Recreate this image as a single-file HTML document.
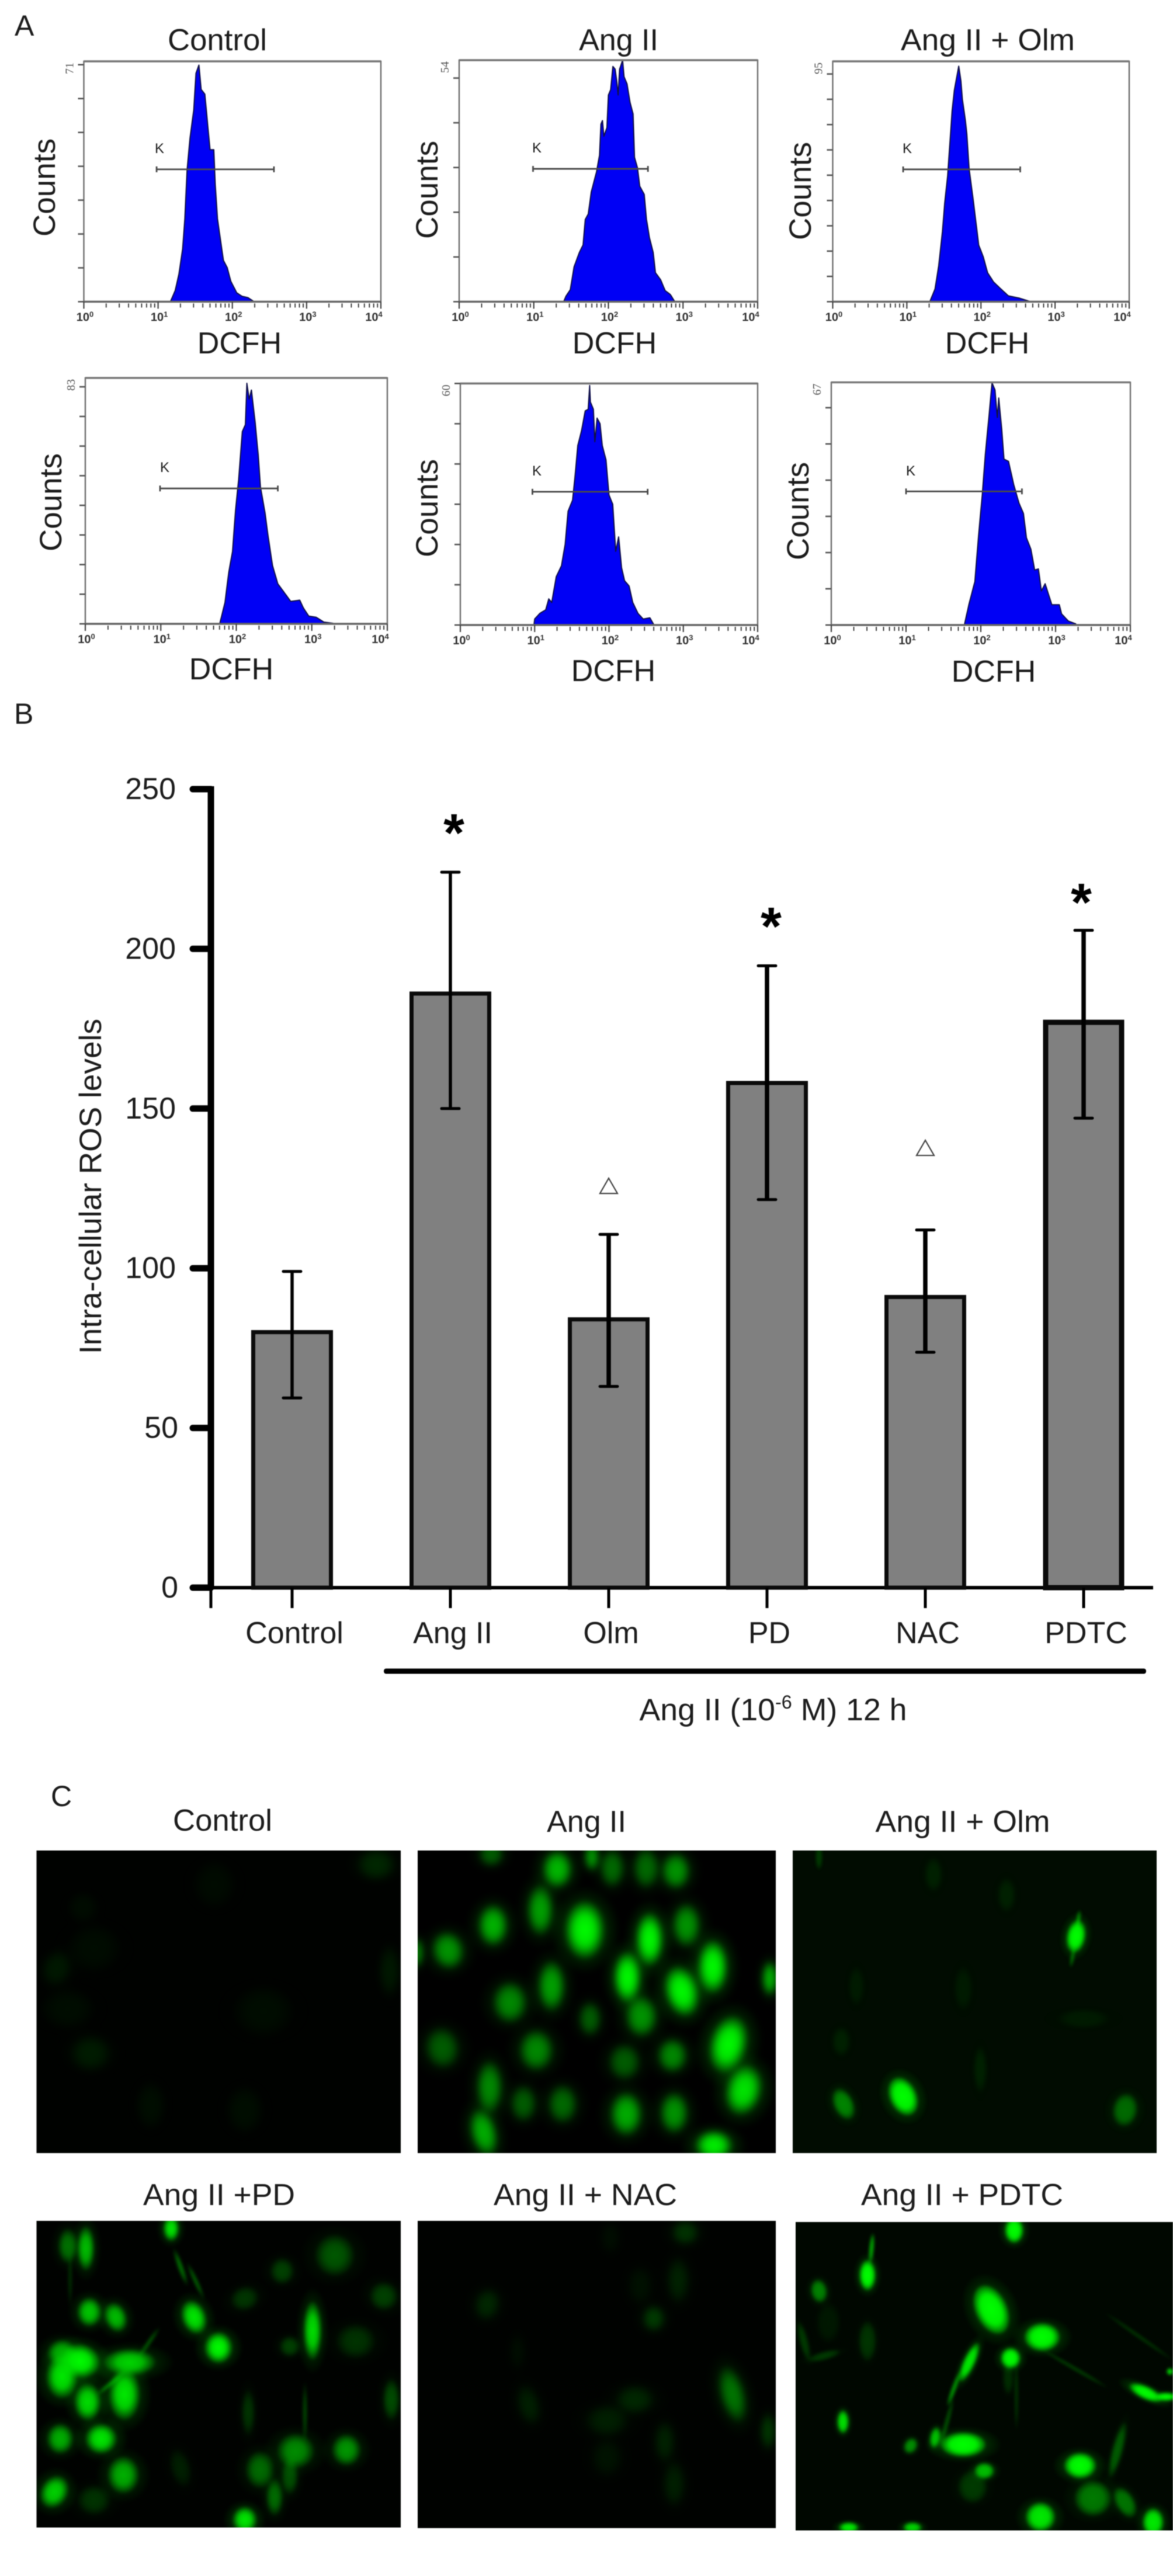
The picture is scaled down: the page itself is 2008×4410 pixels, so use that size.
<!DOCTYPE html>
<html lang="en">
<head>
<meta charset="utf-8">
<title>ROS levels figure</title>
<style>
html,body{margin:0;padding:0;background:#fff;}
svg{display:block;filter:blur(0.9px);}
text{font-family:"Liberation Sans",sans-serif;fill:#1c1c1c;}
</style>
</head>
<body>
<svg id="fig" xmlns="http://www.w3.org/2000/svg" width="2008" height="4410" viewBox="0 0 2008 4410">
<defs>
<filter id="soft" x="-5%" y="-5%" width="110%" height="110%"><feGaussianBlur stdDeviation="5"/></filter>
<filter id="sharp" x="-5%" y="-5%" width="110%" height="110%"><feGaussianBlur stdDeviation="2.6"/></filter>
<radialGradient id="gradsoft"><stop offset="0" stop-color="#00ff00" stop-opacity="1"/><stop offset="0.5" stop-color="#00ff00" stop-opacity="0.85"/><stop offset="1" stop-color="#00ff00" stop-opacity="0.08"/></radialGradient>
<radialGradient id="gradsharp"><stop offset="0" stop-color="#00ff00" stop-opacity="1"/><stop offset="0.6" stop-color="#00ff00" stop-opacity="0.92"/><stop offset="1" stop-color="#00ff00" stop-opacity="0.22"/></radialGradient>
</defs>
<rect width="2008" height="4410" fill="#fff"/>

<g id="panelA">
<text x="25" y="61" font-size="50">A</text>
<text x="372" y="86" font-size="52" text-anchor="middle" textLength="170" lengthAdjust="spacingAndGlyphs">Control</text>
<text x="1059" y="86" font-size="52" text-anchor="middle">Ang II</text>
<text x="1691" y="86" font-size="52" text-anchor="middle" textLength="298" lengthAdjust="spacingAndGlyphs">Ang II + Olm</text>
<text transform="translate(94 321) rotate(-90)" font-size="53" text-anchor="middle">Counts</text>
<text transform="translate(749 325) rotate(-90)" font-size="53" text-anchor="middle">Counts</text>
<text transform="translate(1388 327) rotate(-90)" font-size="53" text-anchor="middle">Counts</text>
<text transform="translate(105 860) rotate(-90)" font-size="53" text-anchor="middle">Counts</text>
<text transform="translate(749 870) rotate(-90)" font-size="53" text-anchor="middle">Counts</text>
<text transform="translate(1384 875) rotate(-90)" font-size="53" text-anchor="middle">Counts</text>
<text x="410" y="605" font-size="52" text-anchor="middle">DCFH</text>
<text x="1052" y="605" font-size="52" text-anchor="middle">DCFH</text>
<text x="1690" y="605" font-size="52" text-anchor="middle">DCFH</text>
<text x="396" y="1163" font-size="52" text-anchor="middle">DCFH</text>
<text x="1050" y="1166" font-size="52" text-anchor="middle">DCFH</text>
<text x="1701" y="1167" font-size="52" text-anchor="middle">DCFH</text>
<text x="265" y="262" font-size="24">K</text>
<text x="911" y="261" font-size="24">K</text>
<text x="1545" y="262" font-size="24">K</text>
<text x="274" y="808" font-size="24">K</text>
<text x="911" y="814" font-size="24">K</text>
<text x="1551" y="814" font-size="24">K</text>
</g>

<g id="panelB">
<text x="24" y="1239" font-size="50">B</text>
<text transform="translate(173 2318) rotate(-90)" font-size="53" textLength="574" lengthAdjust="spacingAndGlyphs">Intra-cellular ROS levels</text>
<rect x="657" y="2856.5" width="1305" height="9" rx="4" fill="#000"/>
<text x="1094.5" y="2945" font-size="53" textLength="458" lengthAdjust="spacingAndGlyphs">Ang II (10<tspan font-size="32" dy="-20">-6</tspan><tspan dy="20"> M) 12 h</tspan></text>
</g>

<g id="panelC">
<text x="87" y="3092" font-size="50">C</text>
<text x="381" y="3134" font-size="52" text-anchor="middle" textLength="170" lengthAdjust="spacingAndGlyphs">Control</text>
<text x="1004" y="3136" font-size="52" text-anchor="middle">Ang II</text>
<text x="1648" y="3136" font-size="52" text-anchor="middle" textLength="299" lengthAdjust="spacingAndGlyphs">Ang II + Olm</text>
<text x="375" y="3775" font-size="52" text-anchor="middle" textLength="260" lengthAdjust="spacingAndGlyphs">Ang II +PD</text>
<text x="1002" y="3775" font-size="52" text-anchor="middle" textLength="314" lengthAdjust="spacingAndGlyphs">Ang II + NAC</text>
<text x="1647" y="3775" font-size="52" text-anchor="middle" textLength="346" lengthAdjust="spacingAndGlyphs">Ang II + PDTC</text>
</g>
</svg>

<script>
/* ---------- Panel A data: histogram outlines, log10 channel and cell counts ---------- */
const hist1Log = [1.17,1.23,1.28,1.33,1.36,1.39,1.43,1.48,1.51,1.55,1.58,1.63,1.67,1.70,1.75,1.77,1.80,1.84,1.88,1.93,1.98,2.06,2.13,2.21,2.28];
const hist1Counts = [0.2,3.3,8.1,15.6,24.5,38.8,48.4,56.6,67.5,69.9,62.7,61.3,51.8,44.9,44.9,34.7,24.5,18.3,12.2,10.1,6,2.6,1.6,1.2,0.2];
const hist2Log = [1.40,1.43,1.49,1.54,1.61,1.66,1.69,1.73,1.77,1.84,1.88,1.90,1.92,1.94,1.98,2.00,2.03,2.06,2.09,2.11,2.13,2.15,2.19,2.21,2.25,2.29,2.33,2.35,2.39,2.42,2.48,2.51,2.55,2.60,2.63,2.70,2.76,2.83,2.89];
const hist2Counts = [0,1.2,2.7,7.8,11,12.7,18.4,19.6,24.5,29,32.7,39.7,40.5,37,38.9,46.2,47.4,52.6,52,49.5,46.2,52,54,50.3,48.7,44.6,42,32.3,29.9,25.8,24,18.4,14.3,11,6.5,4.9,2.5,1.6,0];
const hist3Log = [1.31,1.38,1.43,1.48,1.51,1.55,1.58,1.61,1.64,1.70,1.73,1.75,1.79,1.81,1.84,1.89,1.94,1.97,2.03,2.09,2.17,2.27,2.37,2.52,2.67];
const hist3Counts = [0,5,14.2,27.8,38.8,49.8,62.5,75.3,83.5,93.1,87.2,79.9,71.7,66.2,52.5,41.5,29.7,22.4,17.8,11.4,7.8,5,2.3,1.4,0];
const hist4Log = [1.78,1.85,1.90,1.95,1.99,2.03,2.08,2.12,2.14,2.17,2.20,2.25,2.29,2.32,2.38,2.42,2.48,2.55,2.62,2.72,2.84,2.89,2.96,3.06,3.16,3.28];
const hist4Counts = [0,7.2,17.4,24.4,38.4,48.5,64.9,67.2,81.2,75.8,78.9,68,57.1,46.2,37.6,29.8,19.7,13.5,11.1,7.6,8,5.3,2.6,2.2,0.6,0.2];
const hist5Log = [0.99,1.0,1.07,1.15,1.19,1.23,1.29,1.36,1.41,1.45,1.51,1.54,1.58,1.63,1.68,1.72,1.74,1.75,1.79,1.81,1.84,1.88,1.91,1.96,2.0,2.05,2.09,2.13,2.17,2.21,2.27,2.32,2.39,2.46,2.55,2.60];
const hist5Counts = [0,1.5,2.9,3.8,6.5,5.6,12,14.7,20,28.3,31,36.4,44.6,48.2,53.2,53.6,59.5,55.4,53.6,45.5,51.4,50,44.6,41,32.3,30,18.3,21.9,14.2,11,9.7,5.6,2.9,1.5,1.8,0.2];
const hist6Log = [1.78,1.84,1.92,1.97,2.02,2.06,2.11,2.15,2.19,2.22,2.24,2.28,2.31,2.37,2.44,2.51,2.57,2.61,2.67,2.72,2.77,2.81,2.86,2.95,3.05,3.08,3.17,3.27];
const hist6Counts = [0,5.6,12,24.8,36.2,47.1,57.9,66.9,64.9,57.3,62.7,54.1,45.8,45.2,38.8,33.7,30.8,24.1,20.9,15.2,15.5,9.4,11.4,5.6,5.6,3.1,1.1,0.3];
const histMaxCounts = [71,54,95,83,60,67];
const decadeExponents = [0,1,2,3,4];
const markerStartLog = [0.98,0.99,0.95,0.99,0.97,1.0];
const markerEndLog = [2.56,2.53,2.53,2.55,2.52,2.55];
const markerCounts = [39.1,29.7,52.3,45.7,33.1,36.9];

/* ---------- Panel B data ---------- */
const barCategories = ['Control','Ang II','Olm','PD','NAC','PDTC'];
const barMeans = [80,186,84,158,91,177];
const barErrorHigh = [99,224,110.6,194.7,112,205.8];
const barErrorLow = [59.4,150,63,121.5,73.7,147];
const barMarkers = ['','*','triangle','*','triangle','*'];
const barMarkerLevels = [0,240,125.8,210.8,137.7,218.3];
const barTickValues = [0,50,100,150,200,250];

/* ---------- Panel C: fluorescent cells [cx, cy, rx, ry, brightness, rotation] ---------- */
const cellsControl = [[644,3192,34,28,.13,0],[97,3370,26,32,.08,20],[667,3374,19,45,.08,0],[155,3515,36,32,.09,0],[116,3439,46,36,.04,0],[451,3443,52,45,.04,0],[161,3335,46,42,.035,0],[142,3265,26,26,.035,0],[258,3604,26,42,.045,0],[419,3612,32,42,.045,0],[367,3226,36,42,.03,0]];
const cellsAngII = [[954,3200,26,33,.7,0],[844,3296,26,36,.68,0],[925,3270,23,44,.6,0],[767,3339,28,33,.55,-15],[1001,3304,34,50,1,0],[944,3400,24,44,.6,0],[873,3428,30,36,.5,0],[757,3506,30,36,.33,-10],[918,3510,30,36,.5,0],[838,3573,23,46,.5,0],[896,3601,23,32,.33,0],[963,3602,26,34,.38,0],[828,3651,23,42,.65,-15],[841,3174,22,22,.33,0],[715,3343,10,26,.45,0],[1010,3456,20,30,.33,0],[1048,3198,22,34,.38,0],[1106,3198,23,36,.38,0],[1157,3203,25,32,.55,0],[1013,3179,13,24,.55,0],[1175,3296,25,38,.55,0],[1112,3320,24,46,1,0],[1074,3385,24,44,1,0],[1220,3367,26,46,1,0],[1167,3409,29,44,1,-15],[1098,3452,28,36,.55,0],[1318,3387,14,30,.65,0],[1247,3500,32,50,1,15],[1151,3519,26,30,.5,0],[1069,3530,28,32,.33,0],[1273,3578,31,44,.9,15],[1072,3619,28,38,.65,0],[1154,3617,25,36,.55,0],[1222,3673,32,26,.95,0]];
const cellsOlm = [[1842,3315,16,28,1,10],[1846,3286,3,16,.6,8],[1836,3350,3,18,.45,10],[1546,3589,23,34,1,-25],[1444,3602,17,28,.45,-25],[1926,3612,21,28,.35,10],[1598,3209,15,28,.07,0],[1723,3244,15,28,.07,0],[1402,3179,6,22,.2,0],[1649,3404,15,36,.05,0],[1466,3400,13,32,.05,0],[1855,3456,42,16,.05,0],[1440,3495,15,24,.07,0],[1678,3543,11,38,.07,0]];
const cellsPD = [[147,3849,15,38,.7,0],[116,3845,17,30,.4,0],[293,3815,14,22,.9,0],[153,3958,21,25,.75,0],[198,3967,19,26,.7,-20],[332,3967,21,30,.9,-20],[374,4019,24,27,1,0],[535,3990,16,50,.85,0],[138,4042,33,29,1,15],[106,4069,27,37,.9,0],[106,4028,25,23,.6,0],[222,4044,44,23,.8,0],[213,4099,27,44,.9,0],[150,4112,23,32,.85,0],[103,4175,23,26,.65,0],[173,4175,27,26,.9,0],[211,4237,27,32,.65,0],[93,4266,23,29,.8,30],[419,4314,21,23,.9,0],[506,4196,32,30,.5,0],[593,4194,25,27,.55,0],[445,4228,25,32,.38,0],[470,4275,15,32,.38,0],[496,4239,15,32,.28,0],[573,3861,34,36,.3,0],[483,3888,21,23,.22,0],[419,3935,25,21,.18,-20],[657,3931,25,25,.22,25],[609,4008,34,30,.17,0],[496,4017,18,18,.22,0],[670,4108,15,36,.26,0],[161,4280,29,26,.17,0],[425,4130,12,40,.17,0],[309,4225,18,34,.1,-15],[309,3881,5,34,.45,-20],[522,4130,4,52,.3,0],[335,3905,4,35,.4,-25],[120,3900,3.5,50,.2,0],[255,4010,4,32,.35,35],[190,4080,4,32,.5,50]];
const cellsNAC = [[834,3945,22,28,.13,15],[905,4117,20,36,.1,-15],[886,4026,14,32,.04,0],[1173,3822,24,22,.17,0],[1161,3904,20,40,.11,0],[1119,3969,20,23,.2,0],[1254,4099,22,50,.42,-15],[1087,4108,34,25,.13,0],[1039,4144,38,28,.1,0],[1138,4180,18,36,.11,0],[1315,4162,14,32,.18,0],[1039,4207,28,34,.06,0],[1154,4252,20,40,.1,0],[1096,3913,22,34,.05,0],[1045,3831,17,28,.04,0]];
const cellsPDTC = [[1485,3895,14,26,1,0],[1492,3849,4,26,.7,5],[1736,3818,16,22,1,0],[1402,3922,14,20,.45,-10],[1697,3954,27,44,1,-25],[1784,4001,30,24,1,0],[1730,4037,17,18,1,0],[1659,4044,10,36,.9,25],[1633,4089,4,32,.6,20],[1443,4146,10,20,.85,0],[1649,4185,38,21,1,0],[1601,4173,9,18,.7,10],[1559,4187,11,14,.5,30],[1685,4230,17,14,.7,0],[1665,4257,25,28,.18,0],[1849,4221,27,22,1,0],[1871,4277,31,30,.42,0],[1781,4309,25,25,.9,0],[1974,4318,18,24,.9,0],[1453,4327,17,9,.9,0],[1562,4327,16,9,.8,0],[1961,4096,30,11,1,25],[1996,4103,18,7,1,0],[2003,4060,6,6,.9,0],[1913,4194,9,48,.3,15],[1926,4284,16,28,.4,-30],[1485,4008,15,34,.16,0],[1411,4033,28,7,.18,-15],[1376,4008,7,34,.18,-15],[1418,3976,20,34,.06,0],[1726,4071,9,28,.13,0],[1840,4055,3,65,.25,-60],[1950,4000,3,70,.2,-55],[1620,4150,4,45,.3,15],[1740,4100,3,60,.2,0]];

/* ---------- Layout (not data) ---------- */
const plotLayouts = [
 {L:143.5,R:652,T:105,B:516.5},
 {L:786,R:1297,T:103,B:516.5},
 {L:1425.5,R:1933,T:105,B:516.5},
 {L:146,R:663,T:647,B:1068},
 {L:788,R:1297,T:656.5,B:1070},
 {L:1423,R:1935,T:654.6,B:1070}
];
const imageLayouts = [
 {x:62.5,y:3168,w:623.5,h:518,bg:'#000200',f:'soft',gr:'gradsoft'},
 {x:715,y:3168,w:613,h:518,bg:'#000000',f:'soft',gr:'gradsoft'},
 {x:1357,y:3168,w:623,h:518,bg:'#010c01',f:'sharp',gr:'gradsharp'},
 {x:62.5,y:3802,w:623.5,h:525,bg:'#000200',f:'sharp',gr:'gradsoft'},
 {x:715,y:3802,w:613,h:526,bg:'#000200',f:'soft',gr:'gradsoft'},
 {x:1362,y:3804,w:646,h:528,bg:'#000700',f:'sharp',gr:'gradsharp'}
];
const starNudge = [0,6,0,7,0,-4];
const SVGNS = 'http://www.w3.org/2000/svg';
const svg = document.getElementById('fig');
const panelA = document.getElementById('panelA');
const panelB = document.getElementById('panelB');
const panelC = document.getElementById('panelC');

function mk(tag, attrs, parent){
  const e = document.createElementNS(SVGNS, tag);
  for (const k in attrs) e.setAttribute(k, attrs[k]);
  parent.appendChild(e);
  return e;
}

/* ---------- Panel A drawing ---------- */
function drawHistogram(idx, logs, counts){
  const box = plotLayouts[idx];
  const ymax = histMaxCounts[idx];
  const xAt = v => box.L + (v / 4) * (box.R - box.L);
  const yAt = c => box.B - (c / ymax) * (box.B - box.T);

  const g = mk('g', {}, panelA);
  
  

  let d = 'M' + xAt(logs[0]).toFixed(1) + ' ' + box.B;
  for (let i = 0; i < logs.length; i++) {
    d += 'L' + xAt(logs[i]).toFixed(1) + ' ' + yAt(counts[i]).toFixed(1);
  }
  d += 'L' + xAt(logs[logs.length - 1]).toFixed(1) + ' ' + box.B + 'Z';
  const fillShape = mk('path', {d: d, fill: '#0000f5', stroke: '#10104a', 'stroke-width': 2, 'stroke-linejoin': 'round'}, g);
  
  

  const frame = mk('path', {d: 'M' + box.L + ' ' + box.B + 'V' + box.T + 'H' + box.R + 'V' + box.B, fill: 'none', stroke: '#6e6e6e', 'stroke-width': 2.4}, g);
  
  
  const topEdge = mk('line', {x1: box.L, x2: box.R, y1: box.T, y2: box.T, stroke: '#777', 'stroke-width': 3.4}, g);
  
  
  const baseEdge = mk('line', {x1: box.L, x2: box.R, y1: box.B, y2: box.B, stroke: '#666', 'stroke-width': 3.4}, g);
  
  

  for (let c = 0; c <= ymax; c += 10) {
    const tick = mk('line', {x1: box.L - 10, x2: box.L, y1: yAt(c), y2: yAt(c), stroke: '#555', 'stroke-width': 2.6}, g);
    
    
  }
  const maxText = mk('text', {transform: 'translate(' + (box.L - 18) + ' ' + (box.T + 12) + ') rotate(-90)', 'text-anchor': 'middle', 'font-size': 20, style: 'font-family:"Liberation Serif",serif;fill:#555'}, g);
  maxText.textContent = String(ymax);
  
  

  decadeExponents.forEach(function(exp){
    const major = mk('line', {x1: xAt(exp), x2: xAt(exp), y1: box.B, y2: box.B + 12, stroke: '#444', 'stroke-width': 2.2}, g);
    
    
    if (exp < 4) {
      for (let m = 2; m < 10; m++) {
        const pos = xAt(exp + Math.log10(m));
        const minor = mk('line', {x1: pos, x2: pos, y1: box.B + 3, y2: box.B + 10, stroke: '#444', 'stroke-width': 2}, g);
        
        
      }
    }
    const cx = exp === 4 ? box.R - 12 : xAt(exp) + 2;
    const label = mk('text', {x: cx, y: box.B + 33, 'text-anchor': 'middle', 'font-size': 20, 'font-weight': 'bold', style: 'fill:#333'}, g);
    
    
    label.appendChild(document.createTextNode('10'));
    const sup = mk('tspan', {'font-size': 13, dy: -7}, label);
    sup.textContent = String(exp);
  });

  const my = yAt(markerCounts[idx]);
  const m0 = xAt(markerStartLog[idx]);
  const m1 = xAt(markerEndLog[idx]);
  const marker = mk('path', {d: 'M' + m0 + ' ' + (my - 5) + 'v10M' + m0 + ' ' + my + 'H' + m1 + 'M' + m1 + ' ' + (my - 5) + 'v10', fill: 'none', stroke: '#4a4a4a', 'stroke-width': 2.8}, g);
  
  
}
drawHistogram(0, hist1Log, hist1Counts);
drawHistogram(1, hist2Log, hist2Counts);
drawHistogram(2, hist3Log, hist3Counts);
drawHistogram(3, hist4Log, hist4Counts);
drawHistogram(4, hist5Log, hist5Counts);
drawHistogram(5, hist6Log, hist6Counts);

/* ---------- Panel B drawing ---------- */
const yZero = 2718;
const yPerUnit = 5.468;
const yScale = v => yZero - v * yPerUnit;
const xScale = i => 500 + i * 271;
const axisX = 361;

const baseLine = mk('line', {x1: axisX, x2: 1974, y1: yZero, y2: yZero, stroke: '#000', 'stroke-width': 6}, panelB);


const originTick = mk('line', {x1: axisX, x2: axisX, y1: yZero, y2: 2753, stroke: '#000', 'stroke-width': 5}, panelB);



barCategories.forEach(function(cat, i){
  const cx = xScale(i);
  const heavy = i === 5;
  const sw = heavy ? 9 : 7;
  const w = heavy ? 130 : 133;
  const top = yScale(barMeans[i]);
  const bar = mk('rect', {x: cx - w / 2, y: top, width: w, height: yZero - top, fill: '#808080', stroke: '#0a0a0a', 'stroke-width': sw}, panelB);
  
  

  const stemW = i < 2 ? 5.5 : 7.5;
  const hi = yScale(barErrorHigh[i]);
  const lo = yScale(barErrorLow[i]);
  const stem = mk('line', {x1: cx, x2: cx, y1: hi, y2: lo, stroke: '#000', 'stroke-width': stemW}, panelB);
  
  
  const capTop = mk('line', {x1: cx - 15, x2: cx + 15, y1: hi, y2: hi, stroke: '#000', 'stroke-width': 5, 'stroke-linecap': 'round'}, panelB);
  
  
  const capLow = mk('line', {x1: cx - 15, x2: cx + 15, y1: lo, y2: lo, stroke: '#000', 'stroke-width': 5, 'stroke-linecap': 'round'}, panelB);
  
  

  const xt = mk('line', {x1: cx, x2: cx, y1: yZero, y2: 2753, stroke: '#000', 'stroke-width': 5}, panelB);
  
  
  const lab = mk('text', {x: cx + 4, y: 2813, 'text-anchor': 'middle', 'font-size': 52}, panelB);
  lab.textContent = cat;
  
  

  const level = yScale(barMarkerLevels[i]);
  if (barMarkers[i] === '*') {
    const star = mk('text', {x: cx + starNudge[i], y: level + 52, 'text-anchor': 'middle', 'font-size': 92, 'font-weight': 'bold', style: 'fill:#000'}, panelB);
    star.textContent = '*';
    
    
  } else if (barMarkers[i] === 'triangle') {
    const tri = mk('polygon', {points: (cx - 15) + ',' + (level + 13) + ' ' + (cx + 15) + ',' + (level + 13) + ' ' + cx + ',' + (level - 13), fill: '#fff', stroke: '#444', 'stroke-width': 2.2}, panelB);
    
    
  }
});

const yAxisLine = mk('line', {x1: axisX, x2: axisX, y1: 1346, y2: 2721, stroke: '#000', 'stroke-width': 11}, panelB);


barTickValues.forEach(function(v){
  const yy = yScale(v);
  const t = mk('line', {x1: 330, x2: axisX, y1: yy, y2: yy, stroke: '#000', 'stroke-width': 11, 'stroke-linecap': 'round'}, panelB);
  
  
  const l = mk('text', {x: v < 100 ? 305 : 301, y: yy + 17, 'text-anchor': 'end', 'font-size': 52}, panelB);
  l.textContent = String(v);
  
  
});

/* ---------- Panel C drawing ---------- */
function drawImage(idx, cells, name){
  const b = imageLayouts[idx];
  const clip = mk('clipPath', {id: 'clip' + idx}, svg);
  mk('rect', {x: b.x, y: b.y, width: b.w, height: b.h}, clip);
  const g = mk('g', {'clip-path': 'url(#clip' + idx + ')'}, panelC);
  
  
  const bg = mk('rect', {x: b.x, y: b.y, width: b.w, height: b.h, fill: b.bg}, g);
  
  
  const layer = mk('g', {filter: 'url(#' + b.f + ')'}, g);
  cells.forEach(function(c){
    const rot = 'rotate(' + c[5] + ' ' + c[0] + ' ' + c[1] + ')';
    if (c[2] > 6) {
      const halo = mk('ellipse', {cx: c[0], cy: c[1], rx: c[2] * 1.7, ry: c[3] * 1.45, fill: 'url(#gradsoft)', 'fill-opacity': c[4] * 0.2, transform: rot}, layer);
      
      
    }
    const e = mk('ellipse', {cx: c[0], cy: c[1], rx: c[2], ry: c[3], fill: 'url(#' + b.gr + ')', 'fill-opacity': c[4], transform: rot}, layer);
    
    
  });
}
drawImage(0, cellsControl, 'micrograph-control');
drawImage(1, cellsAngII, 'micrograph-ang-ii');
drawImage(2, cellsOlm, 'micrograph-ang-ii-olm');
drawImage(3, cellsPD, 'micrograph-ang-ii-pd');
drawImage(4, cellsNAC, 'micrograph-ang-ii-nac');
drawImage(5, cellsPDTC, 'micrograph-ang-ii-pdtc');
</script>
</body>
</html>
